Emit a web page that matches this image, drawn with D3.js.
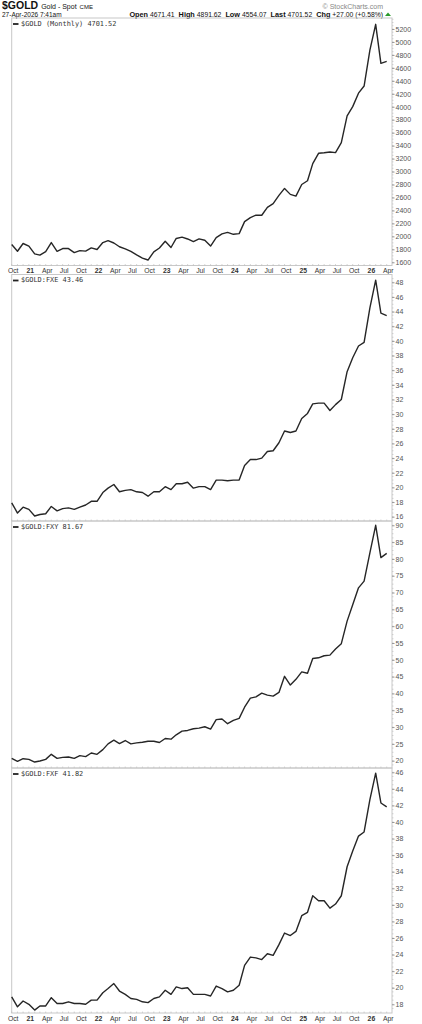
<!DOCTYPE html>
<html><head><meta charset="utf-8">
<script src="https://cdn.jsdelivr.net/npm/d3@7/dist/d3.min.js"></script>
<style>body{margin:0;background:#fff}svg{display:block}</style>
</head><body>
<svg id="c" width="422" height="1024"></svg>
<script>
// ---- data ----
const startMonth = new Date(2020, 9, 1), endMonth = new Date(2026, 4, 1);
const months = d3.timeMonth.range(startMonth, endMonth); // Oct 2020 .. Apr 2026
const gold = [1875,1770,1890,1850,1730,1710,1765,1905,1770,1812,1812,1750,1780,1772,1822,1798,1905,1935,1898,1840,1808,1768,1715,1665,1635,1762,1820,1925,1828,1968,1988,1960,1920,1962,1940,1850,1982,2038,2062,2032,2042,2228,2290,2328,2326,2447,2505,2632,2740,2648,2622,2800,2858,3122,3282,3290,3302,3292,3448,3858,4002,4210,4320,4875,5272,4670,4701.52];
const fxe = [17.9,16.5,17.3,17.0,16.1,16.3,16.4,17.4,16.8,17.1,17.2,17.0,17.3,17.6,18.1,18.1,19.3,19.9,20.4,19.4,19.6,19.7,19.4,19.3,18.8,19.4,19.4,20.1,19.7,20.5,20.5,20.7,19.9,20.1,20.1,19.7,21.0,21.0,20.9,21.0,21.0,23.0,23.8,23.8,24.0,24.9,25.0,26.1,27.7,27.5,27.7,29.4,30.1,31.4,31.5,31.5,30.5,31.3,32.0,35.8,37.7,39.3,39.8,44.5,48.3,43.8,43.46];
const fxy = [20.7,19.8,20.6,20.4,19.6,19.9,20.4,21.9,20.7,21.0,21.1,20.7,21.5,21.2,22.3,21.9,23.3,25.0,26.1,25.1,26.0,25.0,25.3,25.5,25.8,25.8,25.4,26.6,26.4,27.7,28.8,29.0,29.5,29.7,30.1,29.4,32.2,32.4,31.0,32.0,32.6,35.9,38.6,39.0,40.1,39.5,39.2,40.3,45.1,42.5,44.2,46.4,46.0,50.4,50.6,51.2,51.4,53.2,54.8,61.5,66.4,71.4,73.4,81.8,90.0,80.4,81.67];
const fxf = [18.9,17.7,18.4,18.0,17.3,17.8,17.8,18.8,18.1,18.1,18.3,18.1,18.1,18.0,18.5,18.5,19.4,19.9,20.5,19.6,19.2,18.7,18.6,18.3,18.2,18.7,18.9,19.7,19.2,20.1,19.9,20.0,19.2,19.2,19.2,19.0,20.2,19.9,19.5,19.7,20.3,22.7,23.7,23.6,23.4,24.1,23.9,25.2,26.6,26.3,26.8,28.7,29.1,31.1,30.5,30.5,29.6,30.1,31.1,34.6,36.5,38.3,38.8,42.7,45.9,42.3,41.82];
const seriesNames = ["$GOLD (Monthly) 4701.52","$GOLD:FXE 43.46","$GOLD:FXY 81.67","$GOLD:FXF 41.82"];
const goldTicks = d3.range(1600, 5201, 200);
const fxeTicks = d3.range(16, 49, 2);
const fxyTicks = d3.range(20, 91, 5);
const fxfTicks = d3.range(18, 47, 2);
const xTickLabels = ["Oct","21","Apr","Jul","Oct","22","Apr","Jul","Oct","23","Apr","Jul","Oct","24","Apr","Jul","Oct","25","Apr","Jul","Oct","26","Apr"];
const headerSymbol = "$GOLD", headerName = "Gold - Spot", headerExch = "CME";
const headerDate = "27-Apr-2026 7:41am";
const quote = [["Open","4671.41"],["High","4891.62"],["Low","4554.07"],["Last","4701.52"],["Chg","+27.00 (+0.58%)"]];

// ---- layout ----
const svg = d3.select("#c");
const F = "'Liberation Sans', Arial, sans-serif";
const plotL = 11.7, plotR = 392, dataR = 386.7;
const x = d3.scaleTime().domain([months[0], months[months.length-1]]).range([plotL, dataR]);

const panels = [
  {vals: gold, ticks: goldTicks, top: 18, bottom: 265.5, d: [1600, 5200], r: [262.3, 29], name: seriesNames[0], xaxis: true},
  {vals: fxe, ticks: fxeTicks, top: 274.5, bottom: 521, d: [16, 48], r: [516.7, 282.3], name: seriesNames[1]},
  {vals: fxy, ticks: fxyTicks, top: 521, bottom: 768, d: [20, 90], r: [760.7, 525.3], name: seriesNames[2]},
  {vals: fxf, ticks: fxfTicks, top: 768, bottom: 1013, d: [18, 46], r: [1004.3, 772.3], name: seriesNames[3], xaxis: true}
];

// header
const h1 = svg.append("text").attr("x", 2).attr("y", 9).attr("font-family", F).attr("fill", "#111");
h1.append("tspan").attr("font-size", 10.5).attr("font-weight", "bold").text(headerSymbol);
h1.append("tspan").attr("font-size", 7).attr("dx", 3).text(headerName);
h1.append("tspan").attr("font-size", 6).attr("dx", 3).text(headerExch);
svg.append("text").attr("x", 383).attr("y", 8.5).attr("text-anchor", "end").attr("font-family", F)
  .attr("font-size", 7).attr("fill", "#888").text("\u00A9 StockCharts.com");
svg.append("text").attr("x", 2).attr("y", 16.5).attr("font-family", F).attr("font-size", 6.5).attr("fill", "#111").text(headerDate);
const q = svg.append("text").attr("x", 383).attr("y", 16.5).attr("text-anchor", "end").attr("font-family", F).attr("font-size", 7.3).attr("fill", "#111");
quote.forEach(([k, v], i) => {
  q.append("tspan").attr("font-weight", "bold").attr("dx", i ? 4 : 0).text(k);
  q.append("tspan").attr("dx", 2).attr("font-size", 6.8).text(v);
});
svg.append("path").attr("d", "M385,16 L391,16 L388,12.5 Z").attr("fill", "#2a9a2a");

panels.forEach(p => {
  const y = d3.scaleLinear().domain(p.d).range(p.r);
  const g = svg.append("g");
  g.append("rect").attr("x", plotL).attr("y", p.top).attr("width", plotR - plotL).attr("height", p.bottom - p.top)
    .attr("fill", "none").attr("stroke", "#c8c8c8").attr("stroke-width", 1);
  // minor ticks on right axis
  const step = p.ticks[1] - p.ticks[0];
  const minor = d3.range(p.d[0] - step, p.d[1] + step, step / 4).filter(v => y(v) > p.top + 1 && y(v) < p.bottom - 1);
  g.selectAll(".mn").data(minor).join("line").attr("x1", plotR).attr("x2", plotR + 1.5)
    .attr("y1", v => y(v)).attr("y2", v => y(v)).attr("stroke", "#bbb").attr("stroke-width", 0.6);
  const axis = d3.axisRight(y).tickValues(p.ticks).tickSize(2.5).tickPadding(1).tickFormat(d3.format("d"));
  const ag = g.append("g").attr("transform", `translate(${plotR},0)`).call(axis);
  ag.select(".domain").remove();
  ag.selectAll("line").attr("stroke", "#999");
  ag.selectAll("text").attr("font-family", F).attr("font-size", 7).attr("fill", "#555");
  // month ticks on bottom border
  g.selectAll(".mt").data(months).join("line").attr("x1", d => x(d)).attr("x2", d => x(d))
    .attr("y1", p.bottom).attr("y2", p.bottom - 1.5).attr("stroke", "#bbb").attr("stroke-width", 0.6);
  // series line
  const line = d3.line().x((d, i) => x(months[i])).y(d => y(d));
  g.append("path").datum(p.vals).attr("d", line).attr("fill", "none").attr("stroke", "#262626")
    .attr("stroke-width", 1.4).attr("stroke-linejoin", "round");
  // legend
  const ly = p.top + 6;
  g.append("line").attr("x1", 13).attr("x2", 18.5).attr("y1", ly).attr("y2", ly).attr("stroke", "#222").attr("stroke-width", 1.8);
  g.append("text").attr("x", 21).attr("y", ly).attr("dominant-baseline", "middle").attr("font-family", "'DejaVu Sans Mono', monospace")
    .attr("font-size", 6.9).attr("fill", "#333").text(p.name);
  if (p.xaxis) {
    const tm = months.filter((d, i) => i % 3 === 0);
    g.selectAll(".xl").data(tm).join("text").attr("x", d => x(d) + 1.5).attr("y", p.bottom + 7.5)
      .attr("text-anchor", "middle").attr("font-family", F).attr("font-size", 6.8).attr("fill", "#333")
      .attr("font-weight", (d, i) => /^\d/.test(xTickLabels[i]) ? "bold" : "normal")
      .text((d, i) => xTickLabels[i]);
  }
});
</script>
</body></html>
